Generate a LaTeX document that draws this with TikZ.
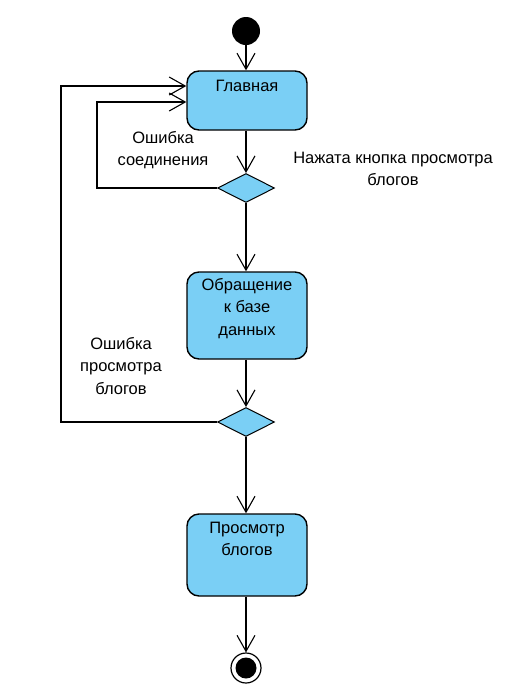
\documentclass[tikz,border=0pt]{standalone}
\usepackage{fontspec}
\setmainfont{Liberation Sans}
\usetikzlibrary{arrows.meta,shapes.geometric}
\definecolor{actfill}{RGB}{122,207,245}
\tikzset{
  every picture/.style={x=1pt,y=-1pt},
  act/.style={draw=black,line width=1.4pt,fill=actfill,rounded corners=12pt,minimum width=120pt,inner sep=0pt},
  dec/.style={diamond,draw=black,line width=1pt,fill=actfill,minimum width=57pt,minimum height=29pt,inner sep=0pt},
  txt/.style={font=\fontsize{16.5}{22.5}\selectfont,align=center,inner sep=0pt,anchor=base},
  arr/.style={line width=1.1pt,-{Straight Barb[length=16pt,width=18pt,line width=1.1pt]}}
}
\begin{document}
\begin{tikzpicture}
\useasboundingbox (0,0) rectangle (513,697);
\node[circle,fill=black,minimum size=28pt,inner sep=0pt] (start) at (246,31) {};
\node[act,minimum height=59pt] (b1) at (247,100.5) {};
\node[txt] (t1) at (247,91) {Главная};
\node[dec] (d1) at (246,188) {};
\node[act,minimum height=87pt] (b2) at (247,315.5) {};
\node[txt] (t2) at (247,335) {Обращение\\к базе\\данных};
\node[dec] (d2) at (246,422) {};
\node[act,minimum height=82pt] (b3) at (247,555) {};
\node[txt] (t3) at (247,555.5) {Просмотр\\блогов};
\node[circle,draw=black,line width=1.2pt,fill=white,minimum size=30pt,inner sep=0pt] (end) at (246,668) {};
\fill (end.center) circle (10.5);
\coordinate (c1) at (97,102);
\coordinate (c2) at (61,86);
\draw[arr] (start) -- (start |- b1.north);
\draw[arr] (b1.south -| d1) -- (d1.north);
\draw[arr] (d1.south) -- (d1.south |- b2.north);
\draw[arr] (d1.west) -- (d1.west -| c1) -- (c1) -- (c1 -| b1.west);
\draw[arr] (b2.south -| d2) -- (d2.north);
\draw[arr] (d2.west) -- (d2.west -| c2) -- (c2) -- (c2 -| b1.west);
\draw[arr] (d2.south) -- (d2.south |- b3.north);
\draw[arr] (b3.south -| end) -- (end.north);
\node[txt] (l1) at (163,165.5) {Ошибка\\соединения};
\node[txt] (l2) at (393,185.5) {Нажата кнопка просмотра\\блогов};
\node[txt] (l3) at (121,394) {Ошибка\\просмотра\\блогов};
\end{tikzpicture}
\end{document}
